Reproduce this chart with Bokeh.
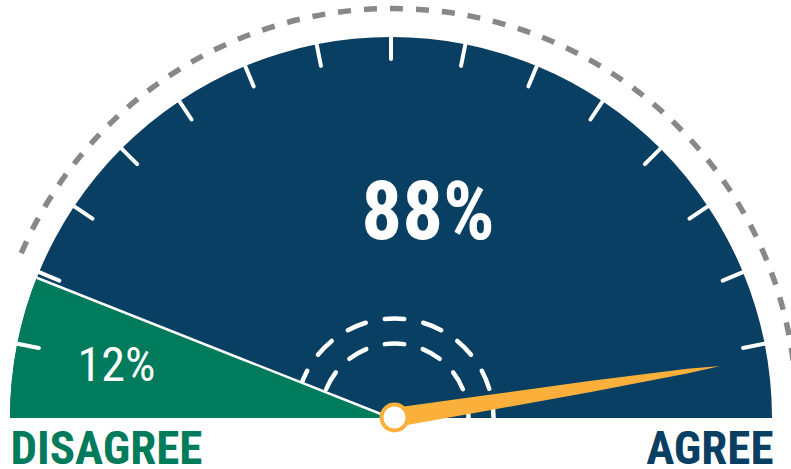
import numpy as np
from bokeh.plotting import figure
from bokeh.models import Range1d
from bokeh.embed import file_html
from bokeh.resources import INLINE
from bokeh.core.properties import value

# ---- data ----
categories = ["DISAGREE", "AGREE"]
shares = [12, 88]
needle_value = 95
n_divisions = 16

# ---- style ----
NAVY = "#083F62"
GREEN = "#007B5B"
ORANGE = "#FBB03B"
GRAY = "#888888"
FONT = "Roboto Condensed, Roboto"

W, H = 791, 469
p = figure(width=W, height=H, x_range=Range1d(0, W), y_range=Range1d(0, H),
           output_backend="svg", toolbar_location=None, min_border=0,
           outline_line_color=None)
p.axis.visible = False
p.grid.visible = False
p.background_fill_color = "white"
p.border_fill_color = "white"

cx, cy, R = 390.5, 51.5, 381
nx, ny = 394, 52

dis_frac = shares[0] / sum(shares)
agree_frac = shares[1] / sum(shares)
split = np.pi * (1 - dis_frac)

# navy gauge
p.wedge(x=[cx], y=[cy], radius=R, start_angle=0, end_angle=np.pi,
        fill_color=NAVY, line_color=None)

# inner dashed arcs
for r, n in [(99, 8), (74, 6)]:
    centers = np.arange(n + 1) * np.pi / n
    half = 9.75 / r
    p.arc(x=nx, y=ny, radius=r, start_angle=centers - half, end_angle=centers + half,
          line_color="white", line_width=4.5, line_cap="round")

# green wedge
p.wedge(x=[cx], y=[cy], radius=R, start_angle=split, end_angle=np.pi,
        fill_color=GREEN, line_color=None)
p.segment(x0=[cx], y0=[cy], x1=[cx + R * np.cos(split)], y1=[cy + R * np.sin(split)],
          line_color="white", line_width=2.5)

# ticks
a = np.arange(1, n_divisions) * np.pi / n_divisions
p.segment(x0=cx + (R - 22) * np.cos(a), y0=cy + (R - 22) * np.sin(a),
          x1=cx + R * np.cos(a), y1=cy + R * np.sin(a),
          line_color="white", line_width=4, line_cap="round")

# outer gray dashed arc (agree portion)
p.arc(x=392, y=57, radius=404, start_angle=0, end_angle=np.pi * agree_frac,
      line_color=GRAY, line_width=5.5, line_dash="13 13")

# needle
th = np.pi * (1 - needle_value / 100)
L = 330
ts = np.array([0, 0.25, 0.6, 0.9, 1.0])
hws = np.array([9.5, 8, 5.5, 2.2, 0])
ux, uy = np.cos(th), np.sin(th)
px, py = -uy, ux
top_x = nx + ts * L * ux + hws * px
top_y = ny + ts * L * uy + hws * py
bot_x = nx + ts * L * ux - hws * px
bot_y = ny + ts * L * uy - hws * py
p.patch(x=np.concatenate([top_x, bot_x[::-1]]), y=np.concatenate([top_y, bot_y[::-1]]),
        fill_color=ORANGE, line_color=None)
p.circle(x=[nx], y=[ny], radius=13, fill_color="white", line_color=ORANGE, line_width=4)

# texts (vertical centre of the capitals)
p.text(x=[427.5], y=[258], text=[f"{shares[1]}%"], text_font=value(FONT),
       text_font_size="81px", text_font_style="bold", text_color="white",
       text_align="center", text_baseline="middle")
p.text(x=[116], y=[105.5], text=[f"{shares[0]}%"], text_font=value(FONT),
       text_font_size="48px", text_font_style="normal", text_color="white",
       text_align="center", text_baseline="middle")
p.text(x=[10], y=[22], text=[categories[0]], text_font=value(FONT),
       text_font_size="47px", text_font_style="bold", text_color=GREEN,
       text_align="left", text_baseline="middle")
p.text(x=[773], y=[22], text=[categories[1]], text_font=value(FONT),
       text_font_size="47px", text_font_style="bold", text_color=NAVY,
       text_align="right", text_baseline="middle")

open("out.html", "w").write(file_html(p, INLINE))
